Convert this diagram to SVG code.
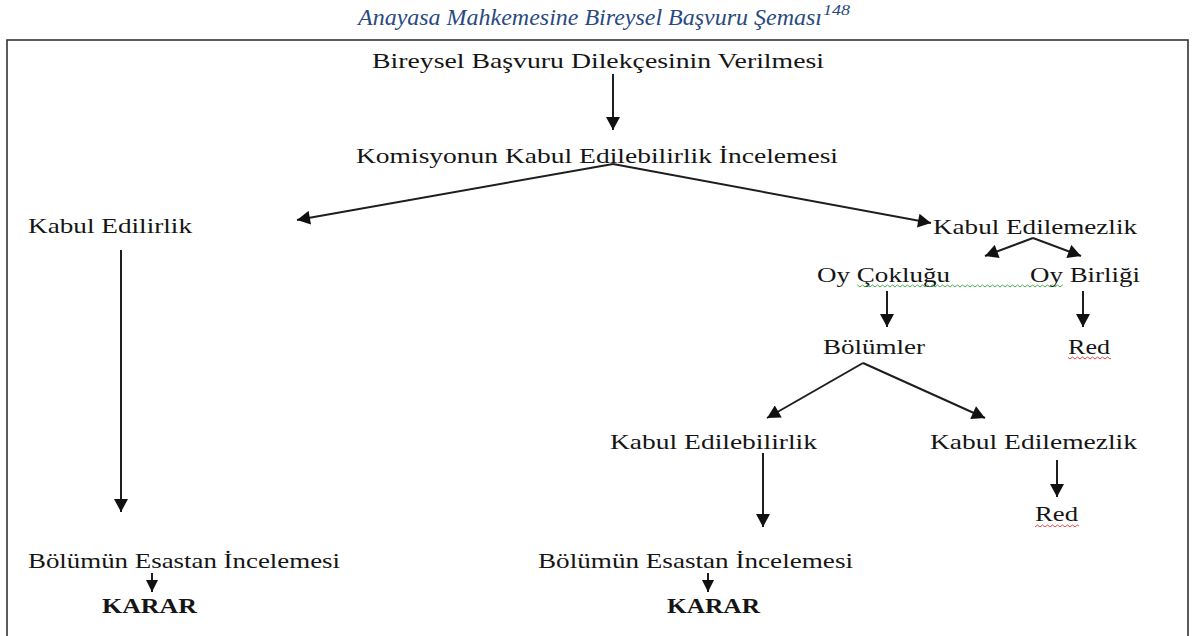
<svg xmlns="http://www.w3.org/2000/svg" width="1195" height="636" viewBox="0 0 1195 636">
  <style>
    .t { font-family: "Liberation Serif", "Times New Roman", serif; font-size: 21px; fill: #151515; }
    .b { font-weight: bold; }
    .title { font-family: "Liberation Serif", "Times New Roman", serif; font-size: 23px; font-style: italic; fill: #2a4a7f; }
    .sup { font-size: 14px; }
    .c line { stroke: #1e1e1e; stroke-width: 2; fill: none; }
    .big { marker-end: url(#ah); }
    .small { marker-end: url(#ahs); }
  </style>
  <defs>
    <marker id="ah" markerUnits="userSpaceOnUse" markerWidth="14" markerHeight="14" viewBox="0 0 13 14" refX="13" refY="7" orient="auto">
      <path d="M0,0 L13,7 L0,14 Z" fill="#111"/>
    </marker>
    <marker id="ahs" markerUnits="userSpaceOnUse" markerWidth="12" markerHeight="12" viewBox="0 0 11 11" refX="11" refY="5.5" orient="auto">
      <path d="M0,0 L11,5.5 L0,11 Z" fill="#111"/>
    </marker>
    <pattern id="wg" width="5" height="4" patternUnits="userSpaceOnUse">
      <path d="M0,3 L2.5,1 L5,3" fill="none" stroke="#3aa040" stroke-width="0.9"/>
    </pattern>
    <pattern id="wr" width="5" height="4" patternUnits="userSpaceOnUse">
      <path d="M0,3 L2.5,1 L5,3" fill="none" stroke="#e03030" stroke-width="0.9"/>
    </pattern>
  </defs>

  <g id="title">
    <text class="title" x="358" y="25" textLength="464" lengthAdjust="spacingAndGlyphs">Anayasa Mahkemesine Bireysel Başvuru Şeması</text>
    <text class="title sup" x="823" y="15" textLength="27" lengthAdjust="spacingAndGlyphs">148</text>
  </g>

  <rect id="frame" x="7" y="40" width="1181" height="620" fill="none" stroke="#333" stroke-width="1.6"/>

  <g id="n-dilekce"><text class="t" x="372" y="68" textLength="452" lengthAdjust="spacingAndGlyphs">Bireysel Başvuru Dilekçesinin Verilmesi</text></g>
  <g id="n-komisyon"><text class="t" x="356" y="163" textLength="482" lengthAdjust="spacingAndGlyphs">Komisyonun Kabul Edilebilirlik İncelemesi</text></g>
  <g id="n-kabul-edilirlik"><text class="t" x="28" y="233" textLength="164" lengthAdjust="spacingAndGlyphs">Kabul Edilirlik</text></g>
  <g id="n-kabul-edilemezlik1"><text class="t" x="933" y="234" textLength="204" lengthAdjust="spacingAndGlyphs">Kabul Edilemezlik</text></g>
  <g id="n-oy-coklugu"><text class="t" x="817" y="282" textLength="133" lengthAdjust="spacingAndGlyphs">Oy Çokluğu</text></g>
  <g id="n-oy-birligi"><text class="t" x="1030" y="282" textLength="110" lengthAdjust="spacingAndGlyphs">Oy Birliği</text></g>
  <rect x="857" y="284" width="206" height="4" fill="url(#wg)"/>
  <g id="n-bolumler"><text class="t" x="823" y="354" textLength="102" lengthAdjust="spacingAndGlyphs">Bölümler</text></g>
  <g id="n-red1"><text class="t" x="1068" y="354" textLength="42" lengthAdjust="spacingAndGlyphs">Red</text>
    <rect x="1068" y="356" width="43" height="4" fill="url(#wr)"/></g>
  <g id="n-kabul-edilebilirlik"><text class="t" x="610" y="449" textLength="207" lengthAdjust="spacingAndGlyphs">Kabul Edilebilirlik</text></g>
  <g id="n-kabul-edilemezlik2"><text class="t" x="930" y="449" textLength="207" lengthAdjust="spacingAndGlyphs">Kabul Edilemezlik</text></g>
  <g id="n-red2"><text class="t" x="1035" y="521" textLength="43" lengthAdjust="spacingAndGlyphs">Red</text>
    <rect x="1035" y="523" width="44" height="4" fill="url(#wr)"/></g>
  <g id="n-esas1"><text class="t" x="28" y="568" textLength="312" lengthAdjust="spacingAndGlyphs">Bölümün Esastan İncelemesi</text></g>
  <g id="n-karar1"><text class="t b" x="102" y="613" textLength="95" lengthAdjust="spacingAndGlyphs">KARAR</text></g>
  <g id="n-esas2"><text class="t" x="538" y="568" textLength="315" lengthAdjust="spacingAndGlyphs">Bölümün Esastan İncelemesi</text></g>
  <g id="n-karar2"><text class="t b" x="667" y="613" textLength="93" lengthAdjust="spacingAndGlyphs">KARAR</text></g>

  <g id="connectors" class="c">
    <line class="big" x1="613" y1="74" x2="613" y2="130"/>
    <line class="big" x1="613" y1="164" x2="297" y2="220"/>
    <line class="big" x1="613" y1="164" x2="931" y2="223"/>
    <line class="big" x1="1033" y1="238" x2="985" y2="256"/>
    <line class="big" x1="1033" y1="238" x2="1081" y2="256"/>
    <line class="big" x1="887" y1="291" x2="887" y2="327"/>
    <line class="big" x1="1083" y1="291" x2="1083" y2="327"/>
    <line class="big" x1="863" y1="363" x2="767" y2="418"/>
    <line class="big" x1="863" y1="363" x2="985" y2="418"/>
    <line class="big" x1="121" y1="250" x2="121" y2="512"/>
    <line class="big" x1="763" y1="453" x2="763" y2="527"/>
    <line class="big" x1="1057" y1="460" x2="1057" y2="497"/>
    <line class="small" x1="152" y1="573" x2="152" y2="592"/>
    <line class="small" x1="708" y1="573" x2="708" y2="592"/>
  </g>
</svg>
